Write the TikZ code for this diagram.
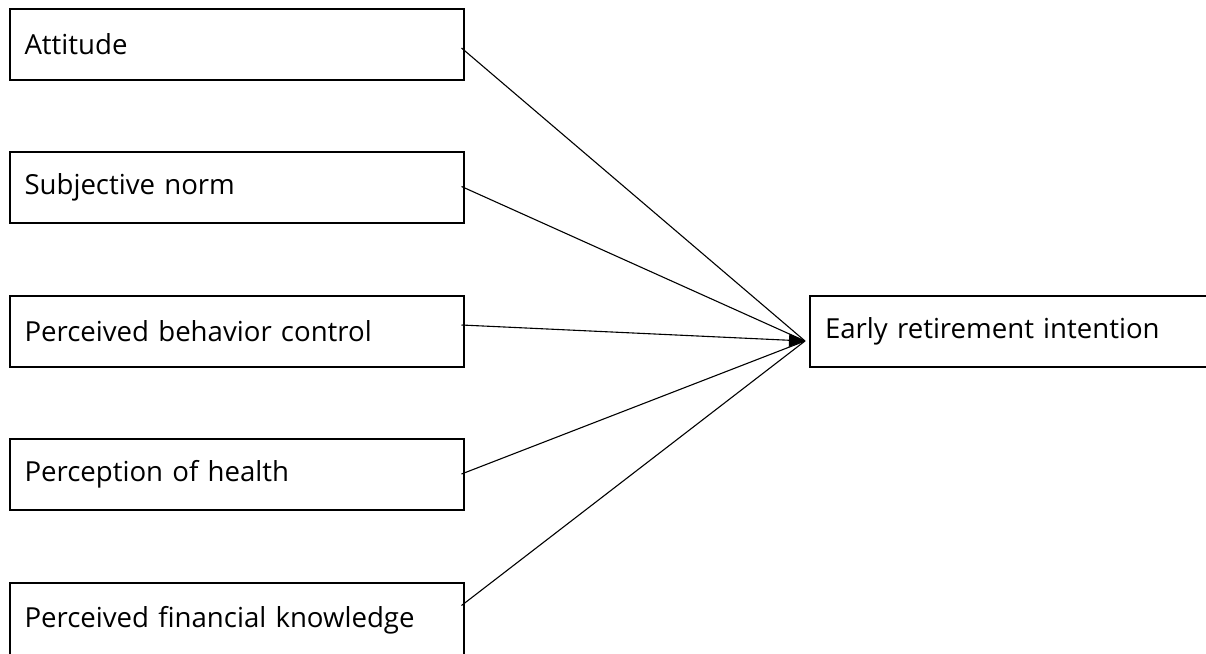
\documentclass[tikz,border=0pt]{standalone}
\usepackage{fontspec}
\setmainfont{Open Sans}
\usetikzlibrary{arrows.meta, calc}

\begin{document}
\begin{tikzpicture}[
  x=1pt, y=-1pt,
  >={Triangle[length=16pt, width=13pt]},
  factor/.style={draw, line width=2pt, anchor=north west,
    minimum height=71pt, text width=424pt, inner xsep=15pt,
    align=left, font=\fontsize{27.6}{32}\selectfont},
  path/.style={line width=1.1pt}
]

% Canvas
\useasboundingbox (0,0) rectangle (1206,653);

% ── Predictors ──
\node[factor] (att) at (8.5,7.5)   {Attitude};
\node[factor] (sub) at (8.5,151)   {Subjective norm};
\node[factor] (pbc) at (8.5,294.5) {Perceived behavior control};
\node[factor] (hea) at (8.5,437.5) {Perception of health};
\node[factor, minimum height=75pt] (fin) at (8.5,582) {Perceived financial knowledge};

% ── Outcome ──
\node[factor] (eri) at (809,294.5) {Early retirement intention};

% Arrow tip just left of the outcome box
\coordinate (tip) at ($(eri.west)+(-4,10)$);

% ── Paths ──
\draw[path] ([xshift=-3pt, yshift=-4pt]att.east) -- (tip);
\draw[path] ([xshift=-3pt, yshift=1pt]sub.east) -- (tip);
\draw[path, ->] ([xshift=-3pt, yshift=6pt]pbc.east) -- (tip);
\draw[path] ([xshift=-3pt]hea.east) -- (tip);
\draw[path] ([xshift=-3pt, yshift=15pt]fin.east) -- (tip);

\end{tikzpicture}
\end{document}
